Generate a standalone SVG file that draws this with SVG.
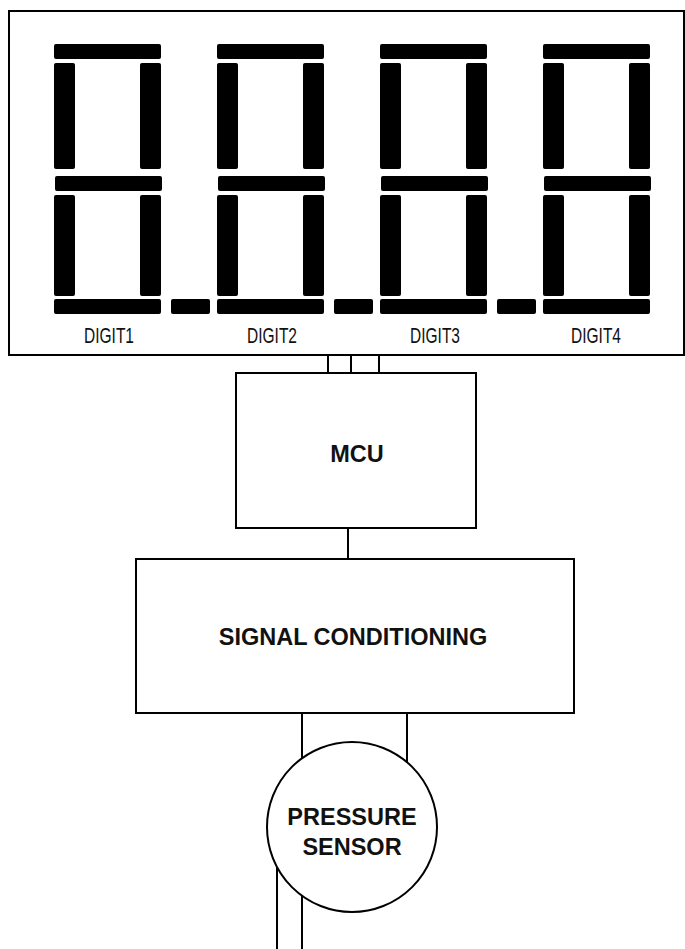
<svg xmlns="http://www.w3.org/2000/svg" width="685" height="949" viewBox="0 0 685 949">
<defs>
<style>
.box{fill:#fff;stroke:#000;stroke-width:2}
.seg{fill:#000}
.wire{stroke:#000;stroke-width:2;fill:none}
.lbl{font-family:"Liberation Sans",Arial,sans-serif;font-size:22px;fill:#111;text-anchor:middle}
.bold{font-family:"Liberation Sans",Arial,sans-serif;font-size:23.5px;font-weight:bold;fill:#111;text-anchor:middle}
</style>
<g id="digitShape">
<rect class="seg" x="0" y="44" width="107" height="15" rx="2"/>
<rect class="seg" x="0" y="63" width="21" height="106" rx="2"/>
<rect class="seg" x="86" y="63" width="21" height="106" rx="2"/>
<rect class="seg" x="1" y="176" width="107" height="15" rx="2"/>
<rect class="seg" x="0" y="195" width="21" height="101" rx="2"/>
<rect class="seg" x="86" y="195" width="21" height="101" rx="2"/>
<rect class="seg" x="0" y="299" width="107" height="15" rx="2"/>
</g>
</defs>
<rect width="685" height="949" fill="#fff"/>
<g id="display">
<rect class="box" x="9" y="11" width="675" height="344"/>
<g id="digit1"><use href="#digitShape" x="54"/><text class="lbl" x="109" y="343" textLength="50" lengthAdjust="spacingAndGlyphs">DIGIT1</text></g>
<g id="dp1"><rect class="seg" x="171" y="299" width="39" height="15" rx="2"/></g>
<g id="digit2"><use href="#digitShape" x="217"/><text class="lbl" x="272" y="343" textLength="50" lengthAdjust="spacingAndGlyphs">DIGIT2</text></g>
<g id="dp2"><rect class="seg" x="334" y="299" width="39" height="15" rx="2"/></g>
<g id="digit3"><use href="#digitShape" x="380"/><text class="lbl" x="435" y="343" textLength="50" lengthAdjust="spacingAndGlyphs">DIGIT3</text></g>
<g id="dp3"><rect class="seg" x="497" y="299" width="39" height="15" rx="2"/></g>
<g id="digit4"><use href="#digitShape" x="543"/><text class="lbl" x="596" y="343" textLength="50" lengthAdjust="spacingAndGlyphs">DIGIT4</text></g>
</g>
<g id="connectors">
<line class="wire" x1="328" y1="355" x2="328" y2="373"/>
<line class="wire" x1="351" y1="355" x2="351" y2="373"/>
<line class="wire" x1="379" y1="355" x2="379" y2="373"/>
<line class="wire" x1="348" y1="528" x2="348" y2="559"/>
<line class="wire" x1="302" y1="713" x2="302" y2="758"/>
<line class="wire" x1="407" y1="713" x2="407" y2="762"/>
<line class="wire" x1="302" y1="896" x2="302" y2="949"/>
<line class="wire" x1="277" y1="867" x2="277" y2="949"/>
</g>
<g id="mcu">
<rect class="box" x="236" y="373" width="240" height="155"/>
<text class="bold" x="357" y="462">MCU</text>
</g>
<g id="signal-conditioning">
<rect class="box" x="136" y="559" width="438" height="154"/>
<text class="bold" x="353" y="645">SIGNAL CONDITIONING</text>
</g>
<g id="pressure-sensor">
<circle class="box" cx="352" cy="827" r="85"/>
<text class="bold" x="352" y="825">PRESSURE</text>
<text class="bold" x="352" y="855">SENSOR</text>
</g>
</svg>
